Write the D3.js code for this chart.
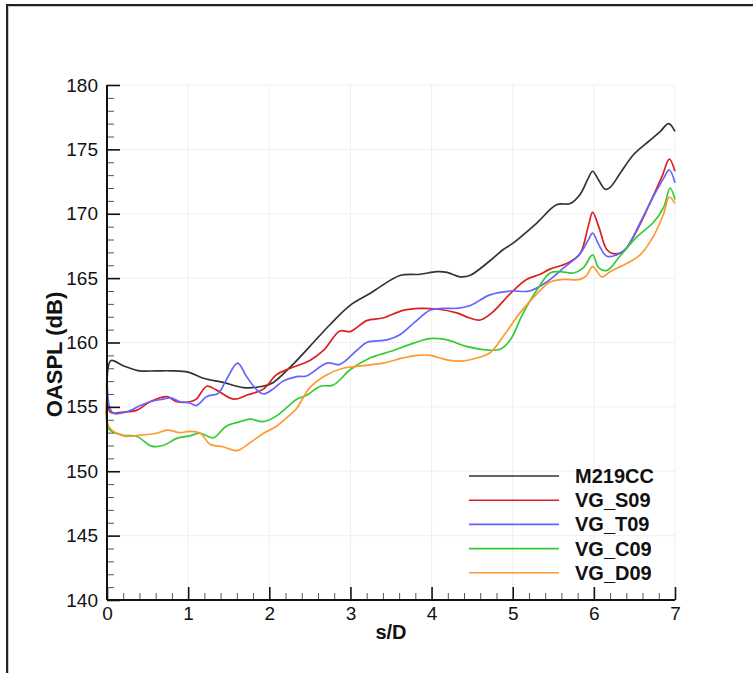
<!DOCTYPE html>
<html>
<head>
<meta charset="utf-8">
<script src="https://cdn.jsdelivr.net/npm/d3@7"></script>
<style>
  body { margin: 0; background: #fff; }
  svg { display: block; }
  text { font-family: "Liberation Sans", Arial, sans-serif; fill: #111; }
</style>
</head>
<body>
<div id="chart"></div>
<script>
// series names, colours and values ([s/D, OASPL dB])
const seriesNames = ["M219CC", "VG_S09", "VG_T09", "VG_C09", "VG_D09"];
const seriesColors = ["#333333", "#dd1f1f", "#6464ff", "#33cc33", "#ff9933"];

const m219cc = [[0,157.0],[0.05,158.6],[0.2,158.2],[0.4,157.8],[0.6,157.8],[0.8,157.8],[1.0,157.7],[1.2,157.2],[1.43,156.9],[1.68,156.5],[1.92,156.6],[2.05,156.9],[2.26,158.1],[2.5,159.7],[2.75,161.4],[3.0,162.9],[3.24,163.8],[3.36,164.3],[3.61,165.2],[3.86,165.3],[4.06,165.5],[4.19,165.45],[4.35,165.1],[4.47,165.2],[4.72,166.35],[4.88,167.2],[5.0,167.7],[5.3,169.3],[5.54,170.7],[5.71,170.8],[5.83,171.5],[5.93,172.75],[5.985,173.3],[6.06,172.6],[6.14,171.9],[6.2,172.05],[6.32,173.1],[6.49,174.6],[6.69,175.7],[6.82,176.4],[6.92,177.0],[7.0,176.4]];
const vgS09 = [[0,157.5],[0.04,154.6],[0.2,154.6],[0.37,154.75],[0.53,155.4],[0.74,155.8],[0.86,155.4],[1.02,155.4],[1.1,155.6],[1.23,156.6],[1.35,156.3],[1.56,155.6],[1.72,155.9],[1.93,156.4],[2.09,157.5],[2.26,158.0],[2.5,158.6],[2.67,159.4],[2.87,160.9],[3.0,160.85],[3.2,161.7],[3.4,161.9],[3.65,162.5],[3.86,162.65],[4.06,162.6],[4.31,162.3],[4.47,161.9],[4.6,161.75],[4.76,162.4],[4.97,163.8],[5.17,164.9],[5.34,165.3],[5.46,165.7],[5.67,166.15],[5.83,166.9],[5.93,169.0],[5.985,170.1],[6.06,169.0],[6.16,167.2],[6.24,166.9],[6.36,167.05],[6.53,168.7],[6.69,170.8],[6.84,172.9],[6.93,174.25],[7.0,173.3]];
const vgT09 = [[0,159.5],[0.03,155.0],[0.08,154.5],[0.24,154.6],[0.41,155.1],[0.53,155.4],[0.69,155.6],[0.78,155.7],[0.9,155.4],[1.02,155.3],[1.1,155.1],[1.23,155.8],[1.37,156.05],[1.47,157.1],[1.61,158.4],[1.72,157.35],[1.85,156.3],[1.93,156.0],[2.05,156.4],[2.17,157.0],[2.34,157.35],[2.46,157.4],[2.71,158.4],[2.87,158.3],[3.08,159.4],[3.2,160.0],[3.45,160.2],[3.61,160.6],[3.78,161.5],[3.98,162.5],[4.14,162.65],[4.31,162.65],[4.47,162.85],[4.72,163.7],[4.97,164.0],[5.21,164.0],[5.42,164.7],[5.62,165.75],[5.83,166.9],[5.93,167.95],[5.985,168.5],[6.06,167.6],[6.16,166.7],[6.28,166.8],[6.41,167.4],[6.57,169.3],[6.73,171.3],[6.86,172.75],[6.93,173.4],[7.0,172.4]];
const vgC09 = [[0,155.5],[0.02,153.3],[0.2,152.8],[0.37,152.7],[0.55,151.95],[0.69,152.0],[0.86,152.55],[1.02,152.75],[1.15,152.95],[1.31,152.6],[1.47,153.5],[1.64,153.85],[1.76,154.05],[1.93,153.85],[2.09,154.3],[2.26,155.2],[2.34,155.6],[2.46,155.9],[2.63,156.6],[2.79,156.7],[3.0,157.9],[3.24,158.8],[3.49,159.3],[3.78,159.95],[3.98,160.3],[4.19,160.2],[4.43,159.7],[4.72,159.4],[4.85,159.5],[4.97,160.2],[5.13,162.3],[5.3,164.1],[5.46,165.4],[5.58,165.5],[5.75,165.4],[5.87,165.8],[5.985,166.8],[6.06,165.8],[6.16,165.6],[6.32,166.7],[6.53,168.2],[6.73,169.3],[6.86,170.5],[6.94,172.0],[7.0,171.1]];
const vgD09 = [[0,156.0],[0.02,153.5],[0.2,152.75],[0.41,152.8],[0.61,152.95],[0.74,153.2],[0.9,153.0],[1.02,153.1],[1.15,152.95],[1.27,152.1],[1.43,151.9],[1.6,151.6],[1.76,152.2],[1.93,152.95],[2.09,153.5],[2.26,154.4],[2.34,154.9],[2.5,156.5],[2.71,157.5],[2.91,158.0],[3.16,158.2],[3.4,158.4],[3.65,158.8],[3.82,159.0],[3.98,159.0],[4.19,158.65],[4.35,158.55],[4.56,158.8],[4.72,159.2],[4.88,160.45],[5.09,162.3],[5.3,163.8],[5.46,164.7],[5.62,164.9],[5.83,164.9],[5.91,165.2],[5.985,165.9],[6.1,165.1],[6.2,165.5],[6.41,166.15],[6.57,166.8],[6.73,168.2],[6.86,170.0],[6.93,171.3],[7.0,170.8]];

const xTicks = [0, 1, 2, 3, 4, 5, 6, 7];
const yTicks = [140, 145, 150, 155, 160, 165, 170, 175, 180];

const W = 753, H = 673;
const plot = {left: 107, right: 675, top: 85, bottom: 600};

const svg = d3.select("#chart").append("svg")
    .attr("width", W)
    .attr("height", H);

// outer frame (top and left edges visible)
svg.append("path")
    .attr("d", "M8.5,673 V6.5 H753")
    .attr("fill", "none").attr("stroke", "#c8c8c8").attr("stroke-width", 1);
svg.append("path")
    .attr("d", "M7,673 V5 H753")
    .attr("fill", "none").attr("stroke", "#222").attr("stroke-width", 2);

const x = d3.scaleLinear().domain([0, 7]).range([plot.left, plot.right]);
const y = d3.scaleLinear().domain([140, 180]).range([plot.bottom, plot.top]);

// grid
const grid = svg.append("g");
grid.selectAll(".gx").data(xTicks.slice(1)).enter().append("line")
    .attr("x1", d => x(d)).attr("x2", d => x(d))
    .attr("y1", plot.top).attr("y2", plot.bottom)
    .attr("stroke", "#efefef").attr("stroke-width", 1);
grid.selectAll(".gy").data(yTicks.slice(1)).enter().append("line")
    .attr("x1", plot.left).attr("x2", plot.right)
    .attr("y1", d => y(d)).attr("y2", d => y(d))
    .attr("stroke", "#efefef").attr("stroke-width", 1);

// curves
const line = d3.line()
    .x(d => x(d[0]))
    .y(d => y(d[1]))
    .curve(d3.curveCatmullRom.alpha(0.5));

const allSeries = [m219cc, vgS09, vgT09, vgC09, vgD09];
svg.append("g").selectAll("path")
    .data(allSeries)
    .enter().append("path")
    .attr("d", line)
    .attr("fill", "none")
    .attr("stroke", (d, i) => seriesColors[i])
    .attr("stroke-width", 1.7)
    .attr("stroke-linejoin", "round");

// axes with inward ticks
const xMinor = d3.range(0, 35).map(i => i * 0.2).filter(v => Math.abs(v - Math.round(v)) > 1e-6);
const yMinor = d3.range(140, 181).filter(v => v % 5 !== 0);

const xAxis = svg.append("g").attr("transform", `translate(0,${plot.bottom})`);
xAxis.call(d3.axisBottom(x).tickValues(xMinor).tickSize(-7).tickFormat(""))
    .call(g => g.select(".domain").remove())
    .call(g => g.selectAll(".tick line").attr("stroke", "#555"));
const xMajor = svg.append("g").attr("transform", `translate(0,${plot.bottom})`);
xMajor.call(d3.axisBottom(x).tickValues(xTicks).tickSize(-13).tickPadding(7).tickFormat(d3.format("d")))
    .call(g => g.select(".domain").attr("stroke", "#111").attr("stroke-width", 2).attr("d", `M${plot.left},0H${plot.right}`))
    .call(g => g.selectAll(".tick line").attr("stroke", "#111").attr("stroke-width", 1.6))
    .call(g => g.selectAll(".tick text").attr("font-size", 19).attr("fill", "#111")
        .attr("font-family", "Liberation Sans, Arial, sans-serif"));

const yAxis = svg.append("g").attr("transform", `translate(${plot.left},0)`);
yAxis.call(d3.axisLeft(y).tickValues(yMinor).tickSize(-7).tickFormat(""))
    .call(g => g.select(".domain").remove())
    .call(g => g.selectAll(".tick line").attr("stroke", "#555"));
const yMajor = svg.append("g").attr("transform", `translate(${plot.left},0)`);
yMajor.call(d3.axisLeft(y).tickValues(yTicks).tickSize(-13).tickPadding(9).tickFormat(d3.format("d")))
    .call(g => g.select(".domain").attr("stroke", "#111").attr("stroke-width", 2).attr("d", `M0,${plot.top}V${plot.bottom}`))
    .call(g => g.selectAll(".tick line").attr("stroke", "#111").attr("stroke-width", 1.6))
    .call(g => g.selectAll(".tick text").attr("font-size", 19).attr("fill", "#111")
        .attr("font-family", "Liberation Sans, Arial, sans-serif"));

// axis titles
svg.append("text")
    .attr("x", (plot.left + plot.right) / 2)
    .attr("y", 639)
    .attr("text-anchor", "middle")
    .attr("font-size", 20).attr("font-weight", "bold")
    .text("s/D");
svg.append("text")
    .attr("transform", `translate(62,${(plot.top + plot.bottom) / 2 + 12}) rotate(-90)`)
    .attr("text-anchor", "middle")
    .attr("font-size", 22).attr("font-weight", "bold")
    .text("OASPL (dB)");

// legend
const legend = svg.append("g");
const rows = legend.selectAll("g").data(seriesNames).enter().append("g")
    .attr("transform", (d, i) => `translate(0,${476 + i * 24.2})`);
rows.append("line")
    .attr("x1", 469).attr("x2", 559)
    .attr("stroke", (d, i) => seriesColors[i]).attr("stroke-width", 1.6);
rows.append("text")
    .attr("x", 575).attr("y", 7)
    .attr("font-size", 20).attr("font-weight", "bold")
    .text(d => d);
</script>
</body>
</html>
